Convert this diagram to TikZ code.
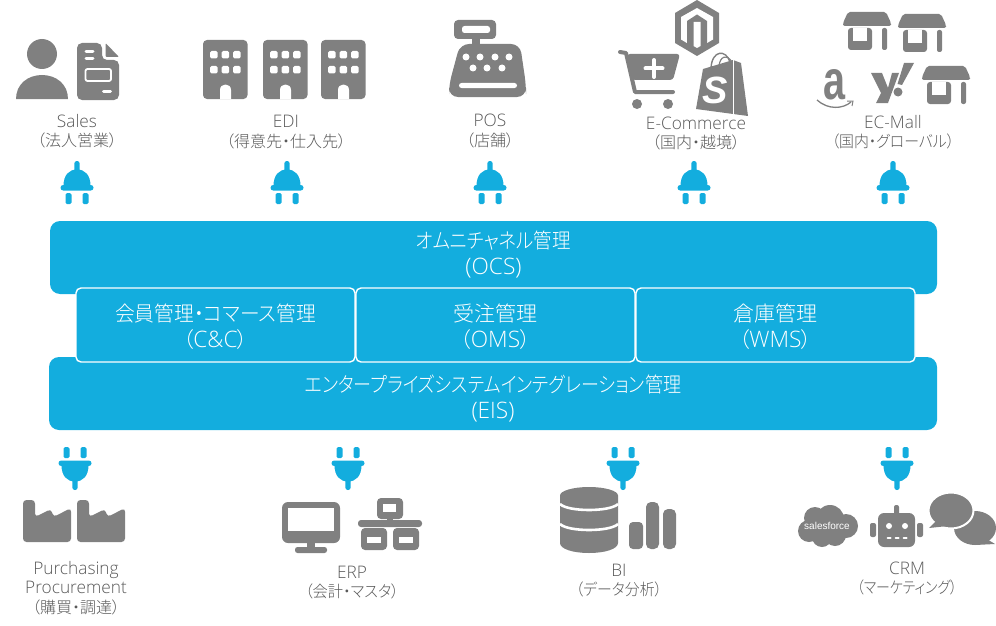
\documentclass[tikz,border=0pt]{standalone}
\usepackage{fontspec}
\usepackage{graphicx}
\setmainfont{Noto Sans CJK JP}[UprightFont=* Light,RawFeature=+palt]
\newfontfamily\lat{Open Sans}[UprightFont=* Light,Scale=1.08]
\newfontfamily\logofont{Liberation Sans}
\newcommand{\cond}[2]{\scalebox{#1}[1]{#2}}
\definecolor{blu}{HTML}{13ADDE}
\definecolor{icn}{HTML}{808080}
\definecolor{txt}{HTML}{595959}
\tikzset{
  bluebox/.style={fill=blu,rounded corners=10pt,draw=none},
  subbox/.style={fill=blu,draw=white,line width=1.4pt,rounded corners=5pt,minimum width=279pt,minimum height=74pt,inner sep=0pt},
  whitetext/.style={text=white,align=center,font=\fontsize{21}{26}\selectfont,inner sep=0pt},
  lbl/.style={text=txt,align=center,font=\fontsize{16}{19.5}\selectfont,inner sep=0pt},
  plug/.pic={
    \fill[blu,rounded corners=2.5pt] (-2.7,0) rectangle (2.7,12);
    \fill[blu] (-13.5,25) .. controls (-13.5,14) and (-8,8.5) .. (0,8.5) .. controls (8,8.5) and (13.5,14) .. (13.5,25) -- cycle;
    \fill[blu,rounded corners=2.7pt] (-16.5,24) rectangle (16.5,29.5);
    \fill[blu,rounded corners=1.5pt] (-11.5,32) rectangle (-5.5,43);
    \fill[blu,rounded corners=1.5pt] (5.5,32) rectangle (11.5,43);
  },
  bldg/.pic={
    \fill[icn,rounded corners=4pt] (0,0) rectangle (44.5,59);
    \foreach \wx in {7,18.5,30}{\foreach \wy in {11,26}{
      \fill[white,rounded corners=1.5pt] (\wx,\wy) rectangle +(7.5,7.5);}}
    \fill[white] (17,59) -- (17,50) .. controls (17,46.5) and (19.5,44.5) .. (22.5,44.5) .. controls (25.5,44.5) and (28,46.5) .. (28,50) -- (28,59) -- cycle;
  },
  shopicon/.pic={
    \fill[icn,rounded corners=2pt] (5,0) -- (43,0) -- (48,11) -- (48,14) -- (0,14) -- (0,11) -- cycle;
    \fill[icn,rounded corners=3pt] (5,16) -- (29,16) -- (29,38) -- (5,38) -- cycle;
    \fill[white] (10,16) rectangle (24,29);
    \fill[icn,rounded corners=2pt] (39,16) rectangle (44,38);
  },
  factory/.pic={
    \fill[icn,rounded corners=3.5pt] (0,0) -- (12,0) -- (12,17) -- (28,9) -- (30.5,17) -- (48,8) -- (48,42) -- (0,42) -- cycle;
  }
}
\begin{document}
\begin{tikzpicture}[x=1pt,y=-1pt]
\useasboundingbox (0,0) rectangle (996,626);

% main bars
\node[bluebox,minimum width=887pt,minimum height=73pt,inner sep=0pt] (ocs) at (493.5,257.5) {};
\node[bluebox,minimum width=888pt,minimum height=73pt,inner sep=0pt] (eis) at (493,393.5) {};
\node[whitetext] (ocst) at (493.5,255) {\cond{.88}{オムニチャネル管理}\\{\lat(OCS)}};
\node[subbox] (cc) at (215.5,325) {};
\node[subbox] (oms) at (495.5,325) {};
\node[subbox] (wms) at (775.5,325) {};
\node[whitetext] (cct) at (215.5,326.5) {\cond{.94}{会員管理・コマース管理}\\（{\lat C\&C}）};
\node[whitetext] (omst) at (495.5,326.5) {受注管理\\（{\lat OMS}）};
\node[whitetext] (wmst) at (775.5,326.5) {倉庫管理\\（{\lat WMS}）};
\node[whitetext] (eist) at (493,398.5) {\cond{.86}{エンタープライズシステムインテグレーション管理}\\{\lat(EIS)}};

% plugs
\foreach \px in {77,287,490,694,893}{\pic at (\px,161) {plug};}
\foreach \px in {75,348,623,897}{\pic[yscale=-1] at (\px,490) {plug};}

% labels
\node[lbl] (l1) at (77,131) {{\lat Sales}\\（法人営業）};
\node[lbl] (l2) at (286,132) {{\lat EDI}\\（得意先・仕入先）};
\node[lbl] (l3) at (490,131) {{\lat POS}\\（店舗）};
\node[lbl] (l4) at (696,133.5) {{\lat E-Commerce}\\（国内・越境）};
\node[lbl] (l5) at (893,132) {{\lat EC-Mall}\\\cond{.93}{（国内・グローバル）}};
\node[lbl] (l6) at (76,588) {{\lat Purchasing}\\{\lat Procurement}\\（購買・調達）};
\node[lbl] (l7) at (352,582.5) {{\lat ERP}\\\cond{.95}{（会計・マスタ）}};
\node[lbl] (l8) at (619,580.5) {{\lat BI}\\\cond{.93}{（データ分析）}};
\node[lbl] (l9) at (907,578.5) {{\lat CRM}\\\cond{.87}{（マーケティング）}};

% Sales icons
\fill[icn] (42,54) circle (15);
\fill[icn] (16,99) .. controls (16,84) and (28,75) .. (42,75) .. controls (56,75) and (68,84) .. (68,99) -- cycle;
\fill[icn,rounded corners=5pt] (77,43) -- (102,43) -- (102,60) -- (119,60) -- (119,100) -- (77,100) -- cycle;
\fill[icn,rounded corners=1pt] (105.5,43) -- (119,57) -- (105.5,57) -- cycle;
\draw[white,line width=3pt,line cap=round] (86,52) -- (93,52) (86,59) -- (93,59) (103.5,91) -- (110.5,91);
\draw[white,line width=1.8pt,rounded corners=2pt] (85.5,69) rectangle (111,81);

% EDI icons
\pic at (203,40) {bldg};
\pic at (263,40) {bldg};
\pic at (321,40) {bldg};

% POS icon
\fill[icn,rounded corners=4pt] (454,20) rectangle (496,39);
\fill[white,rounded corners=2.5pt] (462,26) rectangle (490,33);
\fill[icn] (472,38) rectangle (480,46);
\fill[icn,rounded corners=9pt] (460,44) -- (520,44) -- (526,85) -- (526,97) -- (449,97) -- (449,85) -- cycle;
\foreach \kx in {466,480,495,509}{\fill[white] (\kx,57) circle (3.5);}
\foreach \kx in {473,487,502}{\fill[white] (\kx,68) circle (3.5);}
\fill[white,rounded corners=2.5pt] (459,83) rectangle (517,88);

% E-commerce: cart
\draw[icn,line width=4pt,line cap=round,line join=round] (620,52) -- (626,53) -- (635,92) -- (673,92);
\fill[icn,rounded corners=3pt] (627,54) -- (680,54) -- (673,80) -- (632,80) -- cycle;
\draw[white,line width=4pt,line cap=round] (654,60) -- (654,77) (645.5,68.5) -- (662.5,68.5);
\fill[icn] (637,104) circle (5) (668,104) circle (5);
% magento
\fill[icn] (697,0) -- (719,13) -- (719,43) -- (697,56) -- (675,43) -- (675,13) -- cycle;
\fill[white] (681,17) -- (697,8) -- (713,17) -- (713,39.5) -- (697,49) -- (681,39.5) -- cycle;
\fill[icn] (687,21) -- (697,14.5) -- (707,21) -- (707,46.5) -- (697,52) -- (687,46.5) -- cycle;
\fill[white] (693.5,22) -- (700.5,22) -- (700.5,46) -- (697,48) -- (693.5,46) -- cycle;
% shopify
\draw[icn,line width=1.4pt] (711,68) .. controls (712,50) and (726,49) .. (730,62);
\draw[icn,line width=1.2pt] (719,66) .. controls (720,56) and (727,54) .. (732,62);
\fill[icn] (703,69) -- (733,60) -- (741,63) -- (748,116) -- (696,109) -- cycle;
\draw[white,line width=.8pt] (733,60) -- (733,115);
\node[text=white,font=\logofont\bfseries\itshape\fontsize{38}{38}\selectfont,inner sep=0pt] (shopS) at (715,90) {S};

% EC-Mall
\pic at (843,12) {shopicon};
\pic at (898,14) {shopicon};
\pic at (922,66) {shopicon};
\node[text=icn,inner sep=0pt,font=\logofont\bfseries] (amzn) at (834,85) {\resizebox{22pt}{30pt}{a}};
\draw[icn,line width=1.3pt] (817,100) .. controls (828,110) and (843,109) .. (851,102);
\draw[icn,line width=1pt] (847,101) -- (853,101) -- (852,106);
\fill[icn] (871,73) -- (882,73) -- (888,88) -- (892,73) -- (899,73) -- (888,103) -- (876,103) -- (881,93) -- cycle;
\fill[icn] (904,63) -- (914,63) -- (902,85) -- (897.5,84) -- cycle;
\fill[icn] (898,92) circle (4.5);

% factories
\pic at (23,500) {factory};
\pic at (77,500) {factory};

% ERP
\fill[icn,rounded corners=6pt] (282,502) rectangle (340,543);
\fill[white] (288,508) rectangle (334,531);
\fill[icn] (307,542) rectangle (315,548);
\fill[icn,rounded corners=2.5pt] (295,547) rectangle (327,553);
\fill[icn,rounded corners=4pt] (377,498) rectangle (403,519);
\fill[white] (383,504) rectangle (396,512);
\fill[icn] (387,518) rectangle (393,521);
\fill[icn,rounded corners=3pt] (358,520) rectangle (422,527);
\foreach \bx in {361,393}{
  \fill[icn,rounded corners=4pt] (\bx,528) rectangle +(26,22);
  \fill[white] (\bx+6,537) rectangle +(14,6);
}

% BI
\fill[icn] (560,495.5) -- (618,495.5) -- (618,543) .. controls (618,549) and (605,553) .. (589,553) .. controls (573,553) and (560,549) .. (560,543) -- cycle;
\fill[icn] (589,495.5) ellipse (29 and 8.5);
\draw[white,line width=2.6pt] (560,504) .. controls (568,512) and (610,512) .. (618,504);
\draw[white,line width=2.6pt] (560,524) .. controls (568,532) and (610,532) .. (618,524);
\fill[icn,rounded corners=4pt] (629,522) rectangle (643,549);
\fill[icn,rounded corners=5pt] (646,502) rectangle (659,549);
\fill[icn,rounded corners=5pt] (663,509) rectangle (676,549);

% CRM: salesforce
\fill[icn] (815,518) circle (11) (830,519) circle (14) (846,526) circle (12) (809,531) circle (11) (822,537) circle (10) (835,535) circle (11) (827,526) ellipse (20 and 12);
\node[text=white,font=\logofont\fontsize{10}{10}\selectfont,inner sep=0pt] (sf) at (827,526) {salesforce};
% robot
\fill[icn,rounded corners=2pt] (894,505) rectangle (899,515);
\fill[icn,rounded corners=6pt] (878,513) rectangle (915,547);
\fill[icn,rounded corners=2pt] (870,523) rectangle (876,537);
\fill[icn,rounded corners=2pt] (917,523) rectangle (923,537);
\fill[white] (889,526) circle (3) (905,526) circle (3);
\draw[white,line width=2pt,line cap=round] (887.5,538) -- (890.5,538) (895.5,538) -- (898.5,538) (903.5,538) -- (906.5,538);
% chat
\fill[icn] (975,528) ellipse (21 and 17);
\fill[icn] (985,538) -- (995,544) -- (975,545) -- cycle;
\draw[white,line width=2pt,fill=icn] (951,510.5) ellipse (22.5 and 18);
\fill[icn] (937,520) -- (929,528) -- (948,526) -- cycle;
\end{tikzpicture}
\end{document}
